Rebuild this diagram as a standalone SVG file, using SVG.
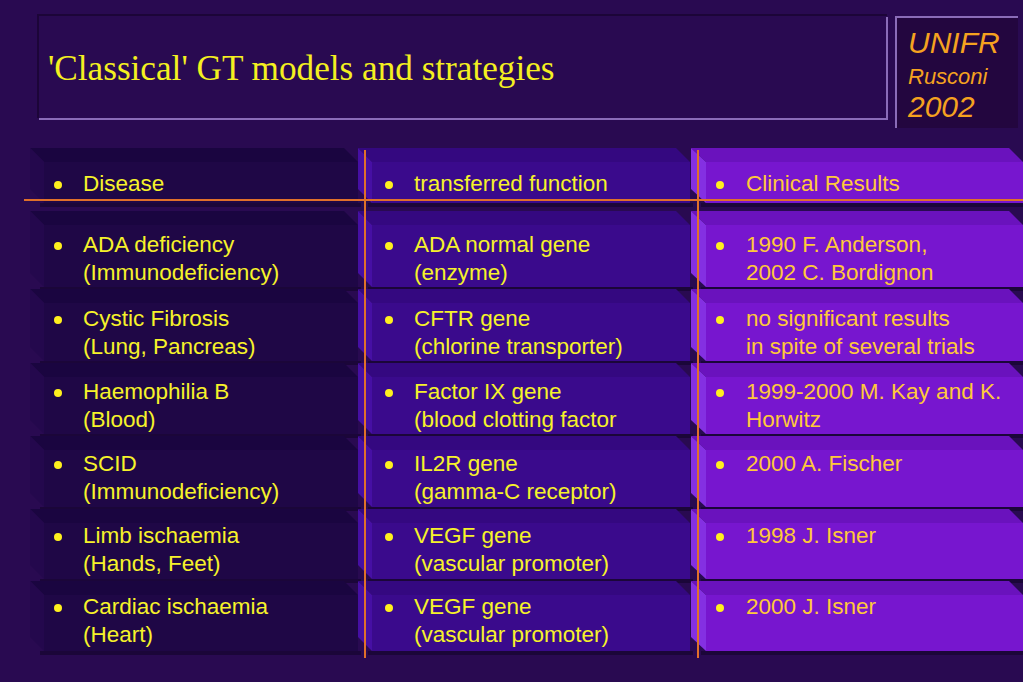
<svg xmlns="http://www.w3.org/2000/svg" width="1023" height="682" viewBox="0 0 1023 682">
<style>
.t{font-family:"Liberation Sans",Arial,sans-serif;font-size:22.5px;fill:#f6f22a}
.t3{font-family:"Liberation Sans",Arial,sans-serif;font-size:22.5px;fill:#ffc93a}
.b{fill:#fff01e}
.sh{fill:#12032a;opacity:.6}
.c1m{fill:#1f0746}.c1t{fill:#1a0540}.c1l{fill:#24084d}
.c2m{fill:#3a0a8c}.c2t{fill:#340880}.c2l{fill:#460fa4}
.c3m{fill:#7716cf}.c3t{fill:#6a12bd}.c3l{fill:#8430e2}
.ln{stroke:#e0702a;stroke-width:2;fill:none}
.uf{font-family:"Liberation Sans",Arial,sans-serif;font-style:italic;fill:#f5a21f}
</style>
<rect width="1023" height="682" fill="#290a51"/>

<g id="title">
<path d="M38 118 V15 H887" stroke="#1c0538" stroke-width="2" fill="none"/>
<path d="M39 119 H887 V17" stroke="#8a6cb8" stroke-width="2" fill="none"/>
<text x="48" y="80" style="font-family:'Liberation Serif','Times New Roman',serif;font-size:35.2px;fill:#f4f020">'Classical' GT models and strategies</text>
</g>

<g id="unifr">
<rect x="896" y="17" width="122" height="111" fill="#23063f"/>
<path d="M896 128 V17 H1018" stroke="#8a6cb8" stroke-width="2" fill="none"/>
<text class="uf" x="908" y="53" font-size="30">UNIFR</text>
<text class="uf" x="908" y="84" font-size="22">Rusconi</text>
<text class="uf" x="908" y="117" font-size="30">2002</text>
</g>

<!-- Column 1 -->
<g id="c1h"><rect class="sh" x="40" y="203" width="321" height="4"/><rect class="c1m" x="44" y="162" width="314" height="41"/><path class="c1t" d="M30 148 H344 L358 162 H44 Z"/><path class="c1l" d="M30 148 L44 162 V203 L30 189 Z"/>
<circle class="b" cx="58" cy="185" r="4"/><text class="t" x="83" y="191">Disease</text></g>

<g id="c1r1"><rect class="sh" x="40" y="287" width="321" height="4"/><rect class="c1m" x="44" y="225" width="314" height="62"/><path class="c1t" d="M30 211 H344 L358 225 H44 Z"/><path class="c1l" d="M30 211 L44 225 V287 L30 273 Z"/>
<circle class="b" cx="58" cy="246" r="4"/><text class="t" x="83" y="252">ADA deficiency</text><text class="t" x="83" y="280">(Immunodeficiency)</text></g>

<g id="c1r2"><rect class="sh" x="40" y="361" width="321" height="4"/><rect class="c1m" x="44" y="303" width="314" height="58"/><path class="c1t" d="M30 289 H344 L358 303 H44 Z"/><path class="c1l" d="M30 289 L44 303 V361 L30 347 Z"/>
<circle class="b" cx="58" cy="320" r="4"/><text class="t" x="83" y="326">Cystic Fibrosis</text><text class="t" x="83" y="354">(Lung, Pancreas)</text></g>

<g id="c1r3"><rect class="sh" x="40" y="434" width="321" height="4"/><rect class="c1m" x="44" y="377" width="314" height="57"/><path class="c1t" d="M30 363 H344 L358 377 H44 Z"/><path class="c1l" d="M30 363 L44 377 V434 L30 420 Z"/>
<circle class="b" cx="58" cy="393" r="4"/><text class="t" x="83" y="399">Haemophilia B</text><text class="t" x="83" y="427">(Blood)</text></g>

<g id="c1r4"><rect class="sh" x="40" y="507" width="321" height="4"/><rect class="c1m" x="44" y="450" width="314" height="57"/><path class="c1t" d="M30 436 H344 L358 450 H44 Z"/><path class="c1l" d="M30 436 L44 450 V507 L30 493 Z"/>
<circle class="b" cx="58" cy="465" r="4"/><text class="t" x="83" y="471">SCID</text><text class="t" x="83" y="499">(Immunodeficiency)</text></g>

<g id="c1r5"><rect class="sh" x="40" y="579" width="321" height="4"/><rect class="c1m" x="44" y="523" width="314" height="56"/><path class="c1t" d="M30 509 H344 L358 523 H44 Z"/><path class="c1l" d="M30 509 L44 523 V579 L30 565 Z"/>
<circle class="b" cx="58" cy="537" r="4"/><text class="t" x="83" y="543">Limb ischaemia</text><text class="t" x="83" y="571">(Hands, Feet)</text></g>

<g id="c1r6"><rect class="sh" x="40" y="651" width="321" height="4"/><rect class="c1m" x="44" y="595" width="314" height="56"/><path class="c1t" d="M30 581 H344 L358 595 H44 Z"/><path class="c1l" d="M30 581 L44 595 V651 L30 637 Z"/>
<circle class="b" cx="58" cy="608" r="4"/><text class="t" x="83" y="614">Cardiac ischaemia</text><text class="t" x="83" y="642">(Heart)</text></g>

<!-- Column 2 -->
<g id="c2h"><rect class="sh" x="368" y="203" width="325" height="4"/><rect class="c2m" x="372" y="162" width="318" height="41"/><path class="c2t" d="M358 148 H676 L690 162 H372 Z"/><path class="c2l" d="M358 148 L372 162 V203 L358 189 Z"/>
<circle class="b" cx="389" cy="185" r="4"/><text class="t" x="414" y="191">transferred function</text></g>

<g id="c2r1"><rect class="sh" x="368" y="287" width="325" height="4"/><rect class="c2m" x="372" y="225" width="318" height="62"/><path class="c2t" d="M358 211 H676 L690 225 H372 Z"/><path class="c2l" d="M358 211 L372 225 V287 L358 273 Z"/>
<circle class="b" cx="389" cy="246" r="4"/><text class="t" x="414" y="252">ADA normal gene</text><text class="t" x="414" y="280">(enzyme)</text></g>

<g id="c2r2"><rect class="sh" x="368" y="361" width="325" height="4"/><rect class="c2m" x="372" y="303" width="318" height="58"/><path class="c2t" d="M358 289 H676 L690 303 H372 Z"/><path class="c2l" d="M358 289 L372 303 V361 L358 347 Z"/>
<circle class="b" cx="389" cy="320" r="4"/><text class="t" x="414" y="326">CFTR gene</text><text class="t" x="414" y="354">(chlorine transporter)</text></g>

<g id="c2r3"><rect class="sh" x="368" y="434" width="325" height="4"/><rect class="c2m" x="372" y="377" width="318" height="57"/><path class="c2t" d="M358 363 H676 L690 377 H372 Z"/><path class="c2l" d="M358 363 L372 377 V434 L358 420 Z"/>
<circle class="b" cx="389" cy="393" r="4"/><text class="t" x="414" y="399">Factor IX gene</text><text class="t" x="414" y="427">(blood clotting factor</text></g>

<g id="c2r4"><rect class="sh" x="368" y="507" width="325" height="4"/><rect class="c2m" x="372" y="450" width="318" height="57"/><path class="c2t" d="M358 436 H676 L690 450 H372 Z"/><path class="c2l" d="M358 436 L372 450 V507 L358 493 Z"/>
<circle class="b" cx="389" cy="465" r="4"/><text class="t" x="414" y="471">IL2R gene</text><text class="t" x="414" y="499">(gamma-C receptor)</text></g>

<g id="c2r5"><rect class="sh" x="368" y="579" width="325" height="4"/><rect class="c2m" x="372" y="523" width="318" height="56"/><path class="c2t" d="M358 509 H676 L690 523 H372 Z"/><path class="c2l" d="M358 509 L372 523 V579 L358 565 Z"/>
<circle class="b" cx="389" cy="537" r="4"/><text class="t" x="414" y="543">VEGF gene</text><text class="t" x="414" y="571">(vascular promoter)</text></g>

<g id="c2r6"><rect class="sh" x="368" y="651" width="325" height="4"/><rect class="c2m" x="372" y="595" width="318" height="56"/><path class="c2t" d="M358 581 H676 L690 595 H372 Z"/><path class="c2l" d="M358 581 L372 595 V651 L358 637 Z"/>
<circle class="b" cx="389" cy="608" r="4"/><text class="t" x="414" y="614">VEGF gene</text><text class="t" x="414" y="642">(vascular promoter)</text></g>

<!-- Column 3 -->
<g id="c3h"><rect class="sh" x="701" y="203" width="322" height="4"/><rect class="c3m" x="706" y="162" width="317" height="41"/><path class="c3t" d="M691 148 H1009 L1023 162 H706 Z"/><path class="c3l" d="M691 148 L706 162 V203 L691 189 Z"/>
<circle class="b" cx="720" cy="185" r="4"/><text class="t3" x="746" y="191">Clinical Results</text></g>

<g id="c3r1"><rect class="sh" x="701" y="287" width="322" height="4"/><rect class="c3m" x="706" y="225" width="317" height="62"/><path class="c3t" d="M691 211 H1009 L1023 225 H706 Z"/><path class="c3l" d="M691 211 L706 225 V287 L691 273 Z"/>
<circle class="b" cx="720" cy="246" r="4"/><text class="t3" x="746" y="252">1990 F. Anderson,</text><text class="t3" x="746" y="280">2002 C. Bordignon</text></g>

<g id="c3r2"><rect class="sh" x="701" y="361" width="322" height="4"/><rect class="c3m" x="706" y="303" width="317" height="58"/><path class="c3t" d="M691 289 H1009 L1023 303 H706 Z"/><path class="c3l" d="M691 289 L706 303 V361 L691 347 Z"/>
<circle class="b" cx="720" cy="320" r="4"/><text class="t3" x="746" y="326">no significant results</text><text class="t3" x="746" y="354">in spite of several trials</text></g>

<g id="c3r3"><rect class="sh" x="701" y="434" width="322" height="4"/><rect class="c3m" x="706" y="377" width="317" height="57"/><path class="c3t" d="M691 363 H1009 L1023 377 H706 Z"/><path class="c3l" d="M691 363 L706 377 V434 L691 420 Z"/>
<circle class="b" cx="720" cy="393" r="4"/><text class="t3" x="746" y="399">1999-2000 M. Kay and K.</text><text class="t3" x="746" y="427">Horwitz</text></g>

<g id="c3r4"><rect class="sh" x="701" y="507" width="322" height="4"/><rect class="c3m" x="706" y="450" width="317" height="57"/><path class="c3t" d="M691 436 H1009 L1023 450 H706 Z"/><path class="c3l" d="M691 436 L706 450 V507 L691 493 Z"/>
<circle class="b" cx="720" cy="465" r="4"/><text class="t3" x="746" y="471">2000 A. Fischer</text></g>

<g id="c3r5"><rect class="sh" x="701" y="579" width="322" height="4"/><rect class="c3m" x="706" y="523" width="317" height="56"/><path class="c3t" d="M691 509 H1009 L1023 523 H706 Z"/><path class="c3l" d="M691 509 L706 523 V579 L691 565 Z"/>
<circle class="b" cx="720" cy="537" r="4"/><text class="t3" x="746" y="543">1998 J. Isner</text></g>

<g id="c3r6"><rect class="sh" x="701" y="651" width="322" height="4"/><rect class="c3m" x="706" y="595" width="317" height="56"/><path class="c3t" d="M691 581 H1009 L1023 595 H706 Z"/><path class="c3l" d="M691 581 L706 595 V651 L691 637 Z"/>
<circle class="b" cx="720" cy="608" r="4"/><text class="t3" x="746" y="614">2000 J. Isner</text></g>

<g id="lines">
<line class="ln" x1="24" y1="200" x2="1023" y2="200"/>
<line class="ln" x1="365" y1="150" x2="365" y2="658"/>
<line class="ln" x1="698" y1="150" x2="698" y2="658"/>
</g>
</svg>
